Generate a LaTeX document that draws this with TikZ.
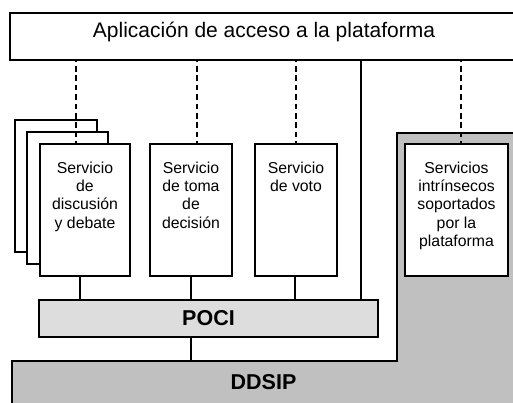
\documentclass[tikz,border=0pt]{standalone}
\usepackage{fontspec}
\setmainfont{Liberation Sans}
\definecolor{ddgray}{HTML}{C0C0C0}
\definecolor{pocigray}{HTML}{DDDDDD}
\tikzset{
  box/.style={draw=black, line width=1.5pt, fill=white, inner sep=0pt, outer sep=0pt},
  conn/.style={draw=black, line width=1.4pt},
  dl/.style={draw=black, line width=1.9pt, dash pattern=on 5.7pt off 3.7pt, dash phase=-6pt},
  bigtxt/.style={font=\fontsize{21}{24}\selectfont},
  boldtxt/.style={font=\fontsize{21.5}{24}\selectfont\bfseries},
}
\newcommand{\boxcontent}[3]{\parbox[c][#2pt][t]{#1pt}{\centering\fontsize{15.8}{18.3}\selectfont\rule{0pt}{29.3pt}#3}}
\begin{document}
\begin{tikzpicture}[x=1pt,y=-1pt]
\useasboundingbox (0,0) rectangle (513,403);
\clip (0,0) rectangle (513,403);
% gray L-shaped DDSIP region
\draw[line width=1.5pt, fill=ddgray] (12,420) -- (12,361) -- (397,361) -- (397,133) -- (530,133) -- (530,420) -- cycle;
\node[boldtxt] (ddsip) at (263.5,382) {DDSIP};
\coordinate (ddsiptop) at (191,361);
% top application box
\node[box, anchor=north west, minimum width=508pt, minimum height=47pt] (app) at (10,13) {};
\node[bigtxt] (apptxt) at (264,32) {Aplicación de acceso a la plataforma};
% stacked discussion boxes
\node[box, anchor=north west, minimum width=82pt, minimum height=132pt] (sdc) at (15,120) {};
\node[box, anchor=north west, minimum width=81pt, minimum height=132pt] (sdb) at (27,132) {};
\node[box, anchor=north west] (sd) at (40,144) {\boxcontent{90}{132}{Servicio\\de\\discusión\\y debate}};
\node[box, anchor=north west] (st) at (150,144) {\boxcontent{82}{132}{Servicio\\de toma\\de\\decisión}};
\node[box, anchor=north west] (sv) at (255,144) {\boxcontent{82}{132}{Servicio\\de voto}};
\node[box, anchor=north west] (si) at (405,144) {\boxcontent{103}{132}{Servicios\\intrínsecos\\soportados\\por la\\plataforma}};
% POCI
\node[box, fill=pocigray, anchor=north west, minimum width=339pt, minimum height=37pt] (poci) at (39,300) {};
\node[boldtxt] (pocitxt) at (208.5,318.5) {POCI};
% dashed connectors
\draw[dl] (76,0 |- app.south) -- (76,0 |- sd.north);
\draw[dl] (197,0 |- app.south) -- (197,0 |- st.north);
\draw[dl] (296,0 |- app.south) -- (296,0 |- sv.north);
\draw[dl] (461,0 |- app.south) -- (461,0 |- si.north);
% solid connectors
\draw[conn] (361,0 |- app.south) -- (361,0 |- poci.north);
\draw[conn] (80,0 |- sd.south) -- (80,0 |- poci.north);
\draw[conn] (191,0 |- st.south) -- (191,0 |- poci.north);
\draw[conn] (295,0 |- sv.south) -- (295,0 |- poci.north);
\draw[conn] (191,0 |- poci.south) -- (ddsiptop);
\end{tikzpicture}
\end{document}
